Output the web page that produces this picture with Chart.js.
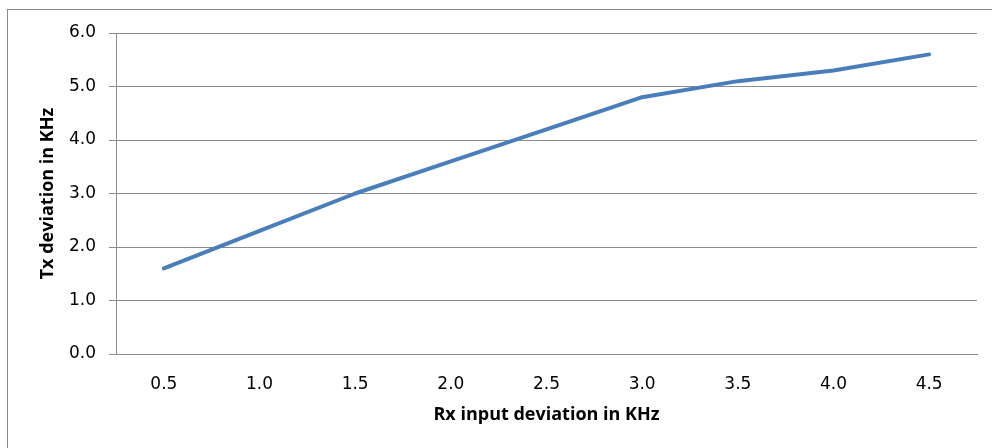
<!DOCTYPE html>
<html lang="en">
<head>
  <meta charset="UTF-8">
  <title>Tx deviation vs Rx input deviation</title>
  <script src="https://cdn.jsdelivr.net/npm/chart.js"></script>
  <style>
    body { margin: 0; background: #fff; overflow: hidden; }
    .wrap { position: relative; width: 992px; height: 448px; }
    .frame {
      position: absolute; left: 7px; top: 9px; width: 1000px; height: 460px;
      border: 1px solid #8a8a8a;
    }
    canvas { position: absolute; left: 0; top: 0; }
  </style>
</head>
<body>
  <div class="wrap">
    <div class="frame"></div>
    <canvas id="grafico" width="992" height="448"></canvas>
  </div>

  <script>
    const rxDeviation = ["0.5", "1.0", "1.5", "2.0", "2.5", "3.0", "3.5", "4.0", "4.5"];
    const txDeviation = [1.6, 2.3, 3.0, 3.6, 4.2, 4.8, 5.1, 5.3, 5.6];
    const yMin = 0;
    const yMax = 6;
    const yStep = 1;

    const gridColor = "#8c8c8c";
    const tickFont = { family: "DejaVu Sans", size: 17 };
    const titleFont = { family: "Open Sans", size: 18, weight: "bold" };

    const ctx = document.getElementById("grafico").getContext("2d");
    new Chart(ctx, {
      type: "line",
      data: {
        labels: rxDeviation,
        datasets: [{
          label: "Tx deviation",
          data: txDeviation,
          borderColor: "#4a7ebb",
          borderWidth: 4,
          borderCapStyle: "round",
          borderJoinStyle: "round",
          pointRadius: 0,
          fill: false,
          tension: 0
        }]
      },
      options: {
        responsive: false,
        animation: false,
        layout: { padding: { top: 33, right: 15, bottom: 0, left: 0 } },
        plugins: { legend: { display: false }, tooltip: { enabled: false } },
        scales: {
          x: {
            offset: true,
            grid: { display: false, drawTicks: false },
            border: { display: true, color: gridColor, width: 1 },
            ticks: { color: "#000", font: tickFont, padding: 20, maxRotation: 0 },
            title: { display: true, text: "Rx input deviation in KHz", color: "#000", font: titleFont, padding: { top: 0, bottom: 22 } },
            afterFit: function(scale) { scale.height = 94; }
          },
          y: {
            min: yMin,
            max: yMax,
            grid: { color: gridColor, lineWidth: 1, tickLength: 7 },
            border: { display: true, color: gridColor, width: 1 },
            ticks: {
              stepSize: yStep,
              color: "#000",
              font: tickFont,
              padding: 13,
              callback: function(v) { return Number(v).toFixed(1); }
            },
            title: { display: true, text: "Tx deviation in KHz", color: "#000", font: titleFont, padding: { top: 37, bottom: 0 } },
            afterFit: function(scale) { scale.width = 116; }
          }
        }
      }
    });
  </script>
</body>
</html>
